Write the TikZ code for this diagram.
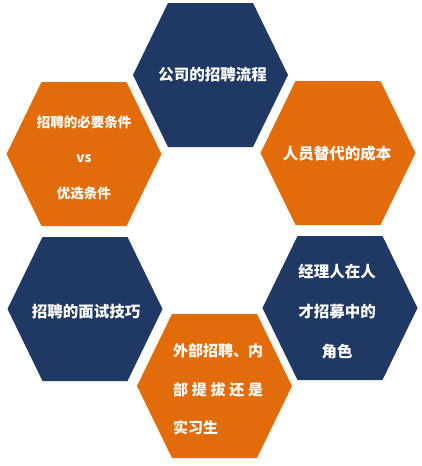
\documentclass[tikz,border=0pt]{standalone}
\usepackage{fontspec}
\newfontfamily\cjk{Noto Sans CJK SC}
\definecolor{navy}{HTML}{1F3864}
\definecolor{orng}{HTML}{E36C0A}
\tikzset{
  hexpic/.pic={\fill[pic actions] (-77.5,0) -- (-42.5,-72) -- (42.5,-72) -- (77.5,0) -- (42.5,72) -- (-42.5,72) -- cycle;},
  hextext/.style={text=white, font=\cjk\bfseries\fontsize{15.5}{40}\selectfont, align=center, inner sep=0pt},
}
\begin{document}
\begin{tikzpicture}[x=1pt,y=-1pt]
\useasboundingbox (0,0) rectangle (421,466);
\fill[white] (0,0) rectangle (421,466);
\pic[fill=navy] at (210.5,75) {hexpic};
\pic[fill=orng] at (84,154) {hexpic};
\pic[fill=orng] at (338,153) {hexpic};
\pic[fill=navy] at (85,309) {hexpic};
\pic[fill=navy] at (340,308) {hexpic};
\pic[fill=orng] at (214.5,386) {hexpic};
\node[hextext] (t1) at (212.5,75) {公司的招聘流程};
\node[hextext, font=\cjk\bfseries\fontsize{13.5}{35.5}\selectfont] (t2) at (84,157.5) {招聘的必要条件\\vs\\优选条件};
\node[hextext] (t3) at (337,154) {人员替代的成本};
\node[hextext] (t4) at (86,312) {招聘的面试技巧};
\node[hextext] (t5) at (337,311.5) {经理人在人\\才招募中的\\角色};
\node[hextext, align=left, font=\cjk\bfseries\fontsize{15}{38.5}\selectfont] (t6) at (218,389.5) {外部招聘、内\\\makebox[90pt][s]{部\hfill 提\hfill 拔\hfill 还\hfill 是}\\实习生};
\end{tikzpicture}
\end{document}
